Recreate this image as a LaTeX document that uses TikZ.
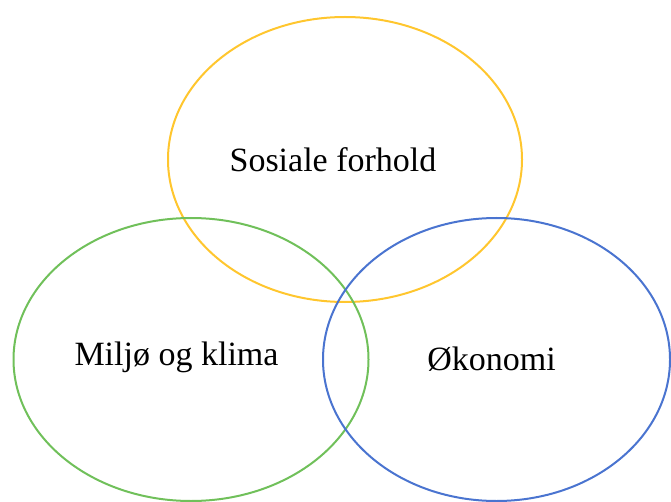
\documentclass[tikz,border=0pt]{standalone}
\usepackage{fontspec}
\setmainfont{Liberation Serif}
\definecolor{gul}{HTML}{FFC62E}
\definecolor{gronn}{HTML}{70C05A}
\definecolor{blaa}{HTML}{4A74D0}
\begin{document}
\begin{tikzpicture}[x=1pt,y=-1pt]
  % Parameters
  \def\lw{2pt}
  \tikzset{sirkel/.style={line width=\lw},
           tekst/.style={font=\fontsize{34}{38}\selectfont, inner sep=0pt}}

  % Canvas
  \useasboundingbox (0,0) rectangle (671,502);

  % Ellipses
  \draw[sirkel, draw=gul]   (345,159.5) ellipse [x radius=177, y radius=142.5];
  \draw[sirkel, draw=gronn] (191,359.5) ellipse [x radius=177.5, y radius=141.5];
  \draw[sirkel, draw=blaa]  (496.5,359.5) ellipse [x radius=173.5, y radius=141.5];

  % Labels
  \node[tekst] (sosial) at (333,160) {Sosiale forhold};
  \node[tekst] (miljo)  at (176.5,357) {Miljø og klima};
  \node[tekst] (okonomi) at (491.5,359) {Økonomi};

\end{tikzpicture}
\end{document}
